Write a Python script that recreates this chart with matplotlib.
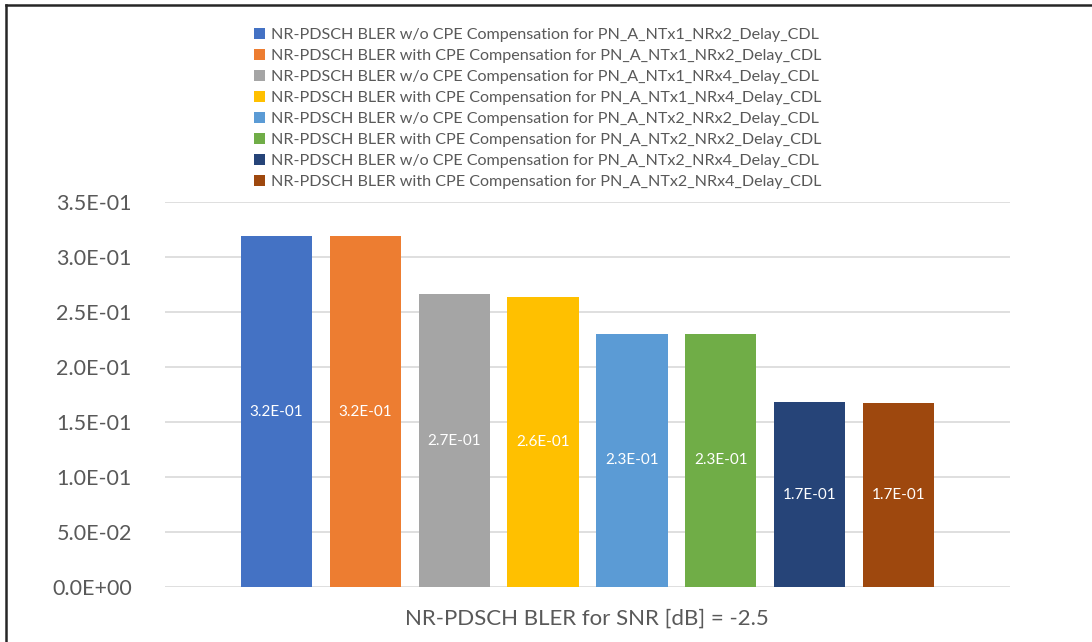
import matplotlib
matplotlib.use("Agg")
import matplotlib.pyplot as plt
from matplotlib.lines import Line2D
from matplotlib.patches import Patch

plt.rcParams['font.family'] = ['Lato', 'DejaVu Sans']

series = [
    "NR-PDSCH BLER w/o CPE Compensation for PN_A_NTx1_NRx2_Delay_CDL",
    "NR-PDSCH BLER with CPE Compensation for PN_A_NTx1_NRx2_Delay_CDL",
    "NR-PDSCH BLER w/o CPE Compensation for PN_A_NTx1_NRx4_Delay_CDL",
    "NR-PDSCH BLER with CPE Compensation for PN_A_NTx1_NRx4_Delay_CDL",
    "NR-PDSCH BLER w/o CPE Compensation for PN_A_NTx2_NRx2_Delay_CDL",
    "NR-PDSCH BLER with CPE Compensation for PN_A_NTx2_NRx2_Delay_CDL",
    "NR-PDSCH BLER w/o CPE Compensation for PN_A_NTx2_NRx4_Delay_CDL",
    "NR-PDSCH BLER with CPE Compensation for PN_A_NTx2_NRx4_Delay_CDL",
]
values = [0.319, 0.319, 0.266, 0.264, 0.230, 0.230, 0.168, 0.167]
colors = ["#4472C4", "#ED7D31", "#A5A5A5", "#FFC000",
          "#5B9BD5", "#70AD47", "#264478", "#9E480E"]
yticks = [0.0, 0.05, 0.10, 0.15, 0.20, 0.25, 0.30, 0.35]
xlabel = "NR-PDSCH BLER for SNR [dB] = -2.5"

W, H = 1092, 642
fig = plt.figure(figsize=(W / 100, H / 100), dpi=100)
fig.patch.set_facecolor("white")

ax_l, ax_r, ax_t, ax_b = 165, 1010, 202, 587
ax = fig.add_axes([ax_l / W, 1 - ax_b / H, (ax_r - ax_l) / W, (ax_b - ax_t) / H])

xs = list(range(len(values)))
bars = ax.bar(xs, values, width=0.8, color=colors, zorder=3)
for b, v in zip(bars, values):
    ax.text(b.get_x() + b.get_width() / 2, v / 2, f"{v:.1E}",
            ha="center", va="center", color="white", fontsize=11, zorder=4)

ax.set_xlim(-1.253, len(values) - 1 + 1.253)
ax.set_ylim(0, 0.35)
ax.set_yticks(yticks)
ax.set_yticklabels([f"{t:.1E}" for t in yticks], fontsize=15.5, color="#595959")
ax.tick_params(axis="y", length=0, pad=24)
ax.set_xticks([])
ax.grid(axis="y", color="#D9D9D9", linewidth=1.2, zorder=0)
for s in ax.spines.values():
    s.set_visible(False)

fig.text(587 / W, 1 - 619 / H, xlabel, ha="center", va="center",
         fontsize=16, color="#595959")

handles = [Patch(facecolor=c, edgecolor="none") for c in colors]
leg = fig.legend(handles, series, loc="upper left",
                 bbox_to_anchor=(246 / W, 1 - 20 / H), frameon=False,
                 fontsize=11.6, handlelength=0.65, handleheight=0.65,
                 handletextpad=0.4, labelspacing=0.43, borderpad=0)
for t in leg.get_texts():
    t.set_color("#595959")

# chart border (top and left)
fig.add_artist(Line2D([6 / W, 1.0], [1 - 5 / H, 1 - 5 / H], color="#262626",
                      linewidth=1.8, transform=fig.transFigure))
fig.add_artist(Line2D([6 / W, 6 / W], [0, 1 - 5 / H], color="#262626",
                      linewidth=1.8, transform=fig.transFigure))

fig.savefig("out.png", dpi=100)
